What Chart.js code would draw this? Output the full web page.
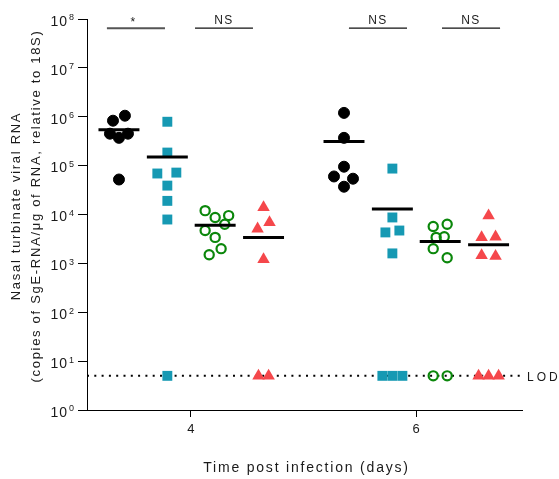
<!DOCTYPE html>
<html>
<head>
<meta charset="utf-8">
<script src="https://cdn.jsdelivr.net/npm/chart.js@4/dist/chart.umd.min.js"></script>
<style>
  html, body { margin: 0; padding: 0; background: #fff; }
</style>
</head>
<body>
<canvas id="chart" width="559" height="479"></canvas>
<script>
// Values (copies of SgE-RNA / ug RNA)
const days = [4, 6];
const LOD = 5;
const yExponents = [0, 1, 2, 3, 4, 5, 6, 7, 8];

const black4 = [8.3e5, 1.05e6, 4.5e5, 3.7e5, 4.5e5, 5.2e4];
const teal4 = [7.9e5, 1.85e5, 6.9e4, 7.2e4, 3.9e4, 1.9e4, 7.9e3, LOD];
const green4 = [1.2e4, 8.7e3, 9.5e3, 6.3e3, 4.7e3, 3.4e3, 2.0e3, 1.5e3];
const red4 = [1.4e4, 5.1e3, 6.9e3, 1.2e3, LOD, LOD];
const black6 = [1.2e6, 3.7e5, 9.5e4, 6.0e4, 5.4e4, 3.7e4];
const teal6 = [8.7e4, 8.7e3, 4.3e3, 4.7e3, 1.6e3, LOD, LOD, LOD];
const green6 = [5.7e3, 6.3e3, 3.4e3, 3.5e3, 2.0e3, 1.3e3, LOD, LOD];
const red6 = [9.5e3, 3.4e3, 3.5e3, 1.45e3, 1.4e3, LOD, LOD, LOD];

const medians4 = [5.4e5, 1.5e5, 6.0e3, 3.4e3];
const medians6 = [3.1e5, 1.3e4, 2.8e3, 2.4e3];

// horizontal scatter of points inside a group (days)
const jitter = {
  black4: [-0.053, 0.053, -0.08, 0, 0.08, 0],
  teal4: [0, 0, -0.089, 0.08, 0, 0, 0, 0],
  green4: [-0.089, 0, 0.12, 0.085, -0.089, 0, 0.053, -0.053],
  red4: [0, -0.053, 0.053, 0, -0.045, 0.045],
  black6: [0, 0, 0, -0.089, 0.08, 0],
  teal6: [0, 0, -0.062, 0.062, 0, -0.089, 0, 0.089],
  green6: [-0.062, 0.062, -0.036, 0.036, -0.062, 0.062, -0.062, 0.062],
  red6: [0, -0.062, 0.062, -0.062, 0.062, -0.089, 0, 0.089],
};

const groupOffsets = [-0.64, -0.21, 0.215, 0.645];
const medianHalf = 0.182;

const brackets = [[3.253, 3.769], [4.036, 4.551], [5.404, 5.92], [6.231, 6.747]];
const bracketLabels = ["*", "NS", "NS", "NS"];
const bracketLevel = 6.5e7;

const colors = { black: "#000000", teal: "#1699b3", green: "#0b870b", red: "#f5474b" };
const FONT = '"Liberation Sans", Arial, sans-serif';

const xMin = 3.076, xMax = 6.942;

const pts = (day, group, values, jit) =>
  values.map((v, i) => ({ x: day + groupOffsets[group] + jit[i], y: v }));

const styles = [
  { pointStyle: "circle", pointRadius: 5.5, backgroundColor: colors.black, borderColor: colors.black, borderWidth: 1 },
  { pointStyle: "rect", pointRadius: 7, backgroundColor: colors.teal, borderColor: colors.teal, borderWidth: 0 },
  { pointStyle: "circle", pointRadius: 4.6, backgroundColor: "rgba(0,0,0,0)", borderColor: colors.green, borderWidth: 2.2 },
  { pointStyle: "triangle", pointRadius: 7.2, backgroundColor: colors.red, borderColor: colors.red, borderWidth: 0 },
];

const groups = [
  [days[0], 0, black4, jitter.black4], [days[0], 1, teal4, jitter.teal4],
  [days[0], 2, green4, jitter.green4], [days[0], 3, red4, jitter.red4],
  [days[1], 0, black6, jitter.black6], [days[1], 1, teal6, jitter.teal6],
  [days[1], 2, green6, jitter.green6], [days[1], 3, red6, jitter.red6],
];

const datasets = [];

groups.forEach(([day, g, values, jit]) => {
  datasets.push({
    type: "scatter",
    data: pts(day, g, values, jit),
    ...styles[g],
    pointHoverRadius: styles[g].pointRadius,
    order: 2,
    clip: false,
  });
});

[[days[0], medians4], [days[1], medians6]].forEach(([day, meds]) => {
  meds.forEach((m, g) => {
    const cx = day + groupOffsets[g];
    datasets.push({
      type: "line",
      data: [{ x: cx - medianHalf, y: m }, { x: cx + medianHalf, y: m }],
      borderColor: "#000",
      borderWidth: 3,
      pointRadius: 0,
      order: 1,
    });
  });
});

brackets.forEach(([a, b], i) => {
  datasets.push({
    type: "line",
    data: [{ x: a, y: bracketLevel }, { x: b, y: bracketLevel }],
    borderColor: i === 0 ? "#555" : "#111",
    borderWidth: i === 0 ? 2 : 1.4,
    pointRadius: 0,
    order: 1,
    clip: false,
  });
});

datasets.push({
  type: "line",
  data: [{ x: xMin, y: LOD }, { x: xMax, y: LOD }],
  borderColor: "#000",
  borderWidth: 2,
  borderDash: [2, 5.3],
  pointRadius: 0,
  order: 3,
});

const textPlugin = {
  id: "texts",
  afterDraw(chart) {
    const { ctx, scales: { x, y }, chartArea } = chart;
    ctx.save();
    ctx.fillStyle = "#1a1a1a";

    // y tick labels 10^n
    yExponents.forEach((e) => {
      const py = y.getPixelForValue(10 ** e);
      ctx.font = `14px ${FONT}`;
      ctx.letterSpacing = "1px";
      ctx.textAlign = "right";
      ctx.textBaseline = "middle";
      ctx.fillText("10", 68, py + 3);
      ctx.font = `9px ${FONT}`;
      ctx.letterSpacing = "0px";
      ctx.textAlign = "left";
      ctx.fillText(String(e), 69, py - 1);
    });

    // significance labels
    ctx.textAlign = "center";
    ctx.textBaseline = "middle";
    brackets.forEach(([a, b], i) => {
      const px = x.getPixelForValue((a + b) / 2);
      const py = y.getPixelForValue(bracketLevel);
      ctx.font = `12px ${FONT}`;
      ctx.letterSpacing = bracketLabels[i] === "*" ? "0px" : "1.5px";
      ctx.fillText(bracketLabels[i], px + (i === 0 ? -3 : 0), py - (i === 0 ? 5 : 7));
    });

    // LOD label
    ctx.textAlign = "left";
    ctx.font = `12px ${FONT}`;
    ctx.letterSpacing = "3px";
    ctx.fillText("LOD", chartArea.right + 5, y.getPixelForValue(LOD) + 2);

    // x title
    ctx.textAlign = "center";
    ctx.font = `14px ${FONT}`;
    ctx.letterSpacing = "1.8px";
    ctx.fillText("Time post infection (days)", (chartArea.left + chartArea.right) / 2 + 2, 468);

    // y title (two lines, rotated)
    ctx.font = `13px ${FONT}`;
    ctx.letterSpacing = "1.7px";
    const cy = 206;
    ctx.translate(16, cy);
    ctx.rotate(-Math.PI / 2);
    ctx.fillText("Nasal turbinate viral RNA", 0, 0);
    ctx.rotate(Math.PI / 2);
    ctx.translate(20, 0);
    ctx.rotate(-Math.PI / 2);
    ctx.fillText("(copies of SgE-RNA/\u03bcg of RNA, relative to 18S)", 0, 0);
    ctx.restore();
  },
};

new Chart(document.getElementById("chart"), {
  type: "scatter",
  data: { datasets },
  options: {
    responsive: false,
    animation: false,
    events: [],
    layout: { padding: { top: 19, right: 37, left: 0, bottom: 0 } },
    plugins: { legend: { display: false }, tooltip: { enabled: false } },
    scales: {
      x: {
        type: "linear",
        min: xMin,
        max: xMax,
        afterBuildTicks: (scale) => { scale.ticks = days.map((d) => ({ value: d })); },
        afterFit: (scale) => { scale.height = 69; },
        ticks: { color: "#1a1a1a", font: { family: FONT, size: 13 }, padding: 5, callback: (v) => String(v) },
        grid: { drawOnChartArea: false, drawTicks: true, tickLength: 7, color: "#000" },
        border: { color: "#000", width: 1 },
      },
      y: {
        type: "logarithmic",
        min: 1,
        max: 1e8,
        afterBuildTicks: (scale) => { scale.ticks = yExponents.map((e) => ({ value: 10 ** e })); },
        afterFit: (scale) => { scale.width = 87; },
        ticks: { display: false },
        grid: { drawOnChartArea: false, drawTicks: true, tickLength: 9, color: "#000" },
        border: { color: "#000", width: 1 },
      },
    },
  },
  plugins: [textPlugin],
});
</script>
</body>
</html>
